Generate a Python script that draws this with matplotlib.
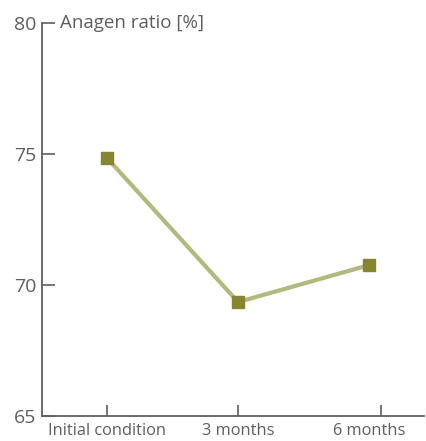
import matplotlib
matplotlib.use("Agg")
import matplotlib.pyplot as plt

categories = ["Initial condition", "3 months", "6 months"]
anagen = [74.85, 69.35, 70.76]
yticks = [65, 70, 75, 80]

plt.rcParams['font.family'] = ['Open Sans', 'DejaVu Sans']
gray = '#5e5e5e'

fig = plt.figure(figsize=(4.26, 4.41), dpi=100)
ax = fig.add_axes([0.0986, 0.0567, 0.897, 0.891])

x = list(range(len(categories)))
ax.plot(x, anagen, color='#b2b87e', lw=3, zorder=2)
ax.plot(x, anagen, ls='none', marker='s', ms=9, color='#878432', zorder=3)

ax.set_ylim(65, 80)
ax.set_xlim(-0.496, 2.42)
ax.set_yticks(yticks)
ax.set_xticks(x)
ax.set_xticklabels(categories)
ax.tick_params(axis='x', length=0, pad=5, labelsize=11.8, colors=gray)
# small marks on the bottom axis (drawn as minor ticks)
ax.xaxis.remove_overlapping_locs = False
ax.set_xticks([0, 1, 2.09], minor=True)
ax.tick_params(axis='x', which='minor', direction='in', length=8, width=1.2, color=gray)
ax.tick_params(axis='y', direction='in', length=9, width=1.2, pad=4, labelsize=14, colors=gray)

for s in ['top', 'right']:
    ax.spines[s].set_visible(False)
for s in ['left', 'bottom']:
    ax.spines[s].set_color(gray)
    ax.spines[s].set_linewidth(1.3)

ax.text(0.046, 80, "Anagen ratio [%]", transform=ax.get_yaxis_transform(),
        va='center', ha='left', fontsize=13.5, color=gray)

fig.savefig("out.png", dpi=100)
